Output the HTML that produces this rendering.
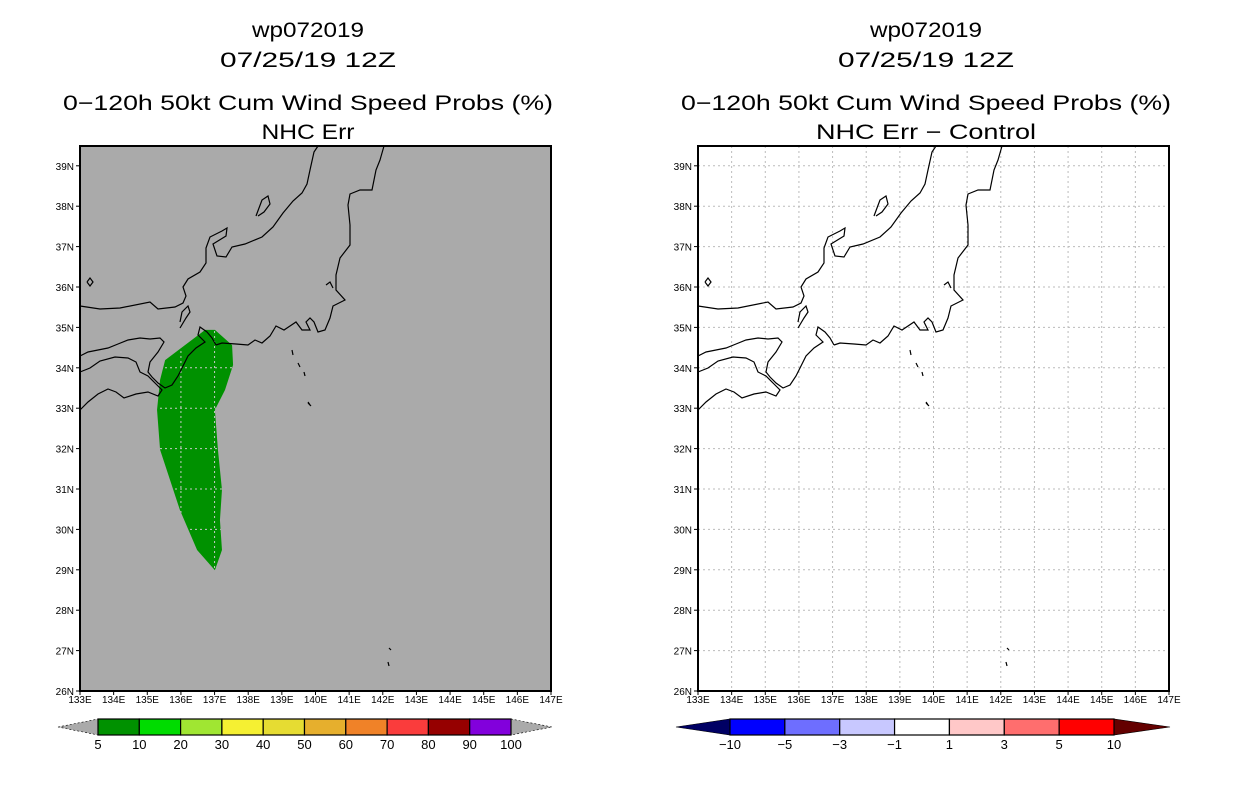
<!DOCTYPE html>
<html><head><meta charset="utf-8"><style>
html,body{margin:0;padding:0;background:#fff}
svg{display:block}
text{font-family:"Liberation Sans",sans-serif}
</style></head><body>
<svg id="fig" width="1236" height="800" viewBox="0 0 1236 800" xmlns="http://www.w3.org/2000/svg">
<defs>
<clipPath id="greenclip"><polygon id="gp" points=""/></clipPath>
</defs>
<g id="root"></g>
</svg>
<script>
const lonTicks=[133,134,135,136,137,138,139,140,141,142,143,144,145,146,147];
const latTicks=[26,27,28,29,30,31,32,33,34,35,36,37,38,39];
const probLevels=["5","10","20","30","40","50","60","70","80","90","100"];
const probColors=["#009100","#00dc00","#a0e632","#f5f032","#e6dc32","#e6af2d","#f08228","#fa3c3c","#960000","#8200dc"];
const diffLevels=["\u221210","\u22125","\u22123","\u22121","1","3","5","10"];
const diffColors=["#0000ff","#6e6eff","#c8c8ff","#ffffff","#ffc8c8","#ff6e6e","#ff0000"];
// 50kt probability contour (lon,lat)
const probLon=[135.53,136.12,136.72,137.01,137.52,137.55,137.31,137.01,137.10,137.22,137.16,137.22,137.01,136.48,135.97,135.38,135.29,135.38];
const probLat=[34.19,34.56,34.94,34.94,34.56,34.07,33.45,32.96,31.97,30.98,30.23,29.49,28.99,29.49,30.48,31.97,32.96,33.70];

const NS="http://www.w3.org/2000/svg";
const root=document.getElementById('root');
function mk(tag,attrs,parent){const e=document.createElementNS(NS,tag);for(const k in attrs)e.setAttribute(k,attrs[k]);(parent||root).appendChild(e);return e;}
const X0=80,X1=551,Y0=146,Y1=691;
function xs(lon,off){return off+X0+(lon-133)*(X1-X0)/14;}
function ys(lat){return Y1-(lat-26)*40.4;}

const coasts=[
"80,306 100,309 120,308 150,302 158,309 175,307 183,303 186,296 183,287 188,279 200,272 206,263 206,248 210,237 222,231 227,228 226,236 213,244 217,256 226,257 232,247 245,244 262,237 273,227 283,213 293,201 302,193 307,184 310,170 314,152 318,146",
"384,146 380,160 376,170 372,190 360,190 350,194 348,205 350,225 350,245 340,258 336,275 336,290 345,300 333,306 330,318 325,330 318,332 314,322 310,318 306,322 310,330 302,330 296,322 290,326 284,330 276,326 270,336 262,343 255,340 248,345 236,344 222,343 216,345",
"216,345 212,338 207,332 200,327 198,335 205,342 196,348 188,356 183,366 178,376 172,385 165,388 158,383 152,377 148,372 150,362 158,352 164,342 160,338 150,339",
"150,339 140,338 128,340 118,344 108,348 98,350 88,352 80,356",
"80,372 90,368 100,361 115,357 128,358 136,362 140,372 148,376 156,384 162,390 158,396 148,392 136,394 124,398 116,392 108,389 98,394 88,402 80,410",
"256,216 262,200 268,196 270,204 264,212 258,216",
"180,328 186,318 190,312 188,306 182,312 180,322",
"87,282 90,278 93,282 90,286 87,282",
"326,285 330,282 333,288",
"292,350 293,355","298,363 300,367","304,372 305,376","308,403 311,406","310,405 308,402",
"389,648 391,650","388,662 389,666"
];
const gridColor="#bbbbbb";

function panel(off,gray){
  const p=mk('g',{});
  
  
  mk('rect',{x:X0+off,y:Y0,width:X1-X0,height:Y1-Y0,fill:gray?'#aaaaaa':'#ffffff'},p);
  let clip=null;
  if(gray){
    const pts=probLon.map((l,i)=>xs(l,off)+','+ys(probLat[i])).join(' ');
    document.getElementById('gp').setAttribute('points',pts);
    const poly=mk('polygon',{points:pts,fill:probColors[0]},p);
    
    
    clip='url(#greenclip)';
  }
  const grid=mk('g',{stroke:gray?'#c8c8c8':gridColor,'stroke-width':1,'stroke-dasharray':'2,3'},p);
  if(clip)grid.setAttribute('clip-path',clip);
  
  
  lonTicks.slice(1,-1).forEach(l=>mk('line',{x1:xs(l,off),x2:xs(l,off),y1:Y0,y2:Y1},grid));
  latTicks.slice(1).forEach(l=>mk('line',{x1:X0+off,x2:X1+off,y1:ys(l),y2:ys(l)},grid));
  const cg=mk('g',{fill:'none',stroke:'#000','stroke-width':1.2,transform:'translate('+off+',0)'},p);
  
  
  coasts.forEach(c=>mk('polyline',{points:c},cg));
  mk('rect',{x:X0+off,y:Y0,width:X1-X0,height:Y1-Y0,fill:'none',stroke:'#000','stroke-width':2},p);
  const ax=mk('g',{},p);
  
  
  lonTicks.forEach(l=>{
    mk('line',{x1:xs(l,off),x2:xs(l,off),y1:Y1,y2:Y1+4,stroke:'#000'},ax);
    const t=mk('text',{x:xs(l,off),y:Y1+12,'font-size':10,'text-anchor':'middle'},ax);
    t.textContent=l+'E';
  });
  latTicks.forEach(l=>{
    mk('line',{x1:X0+off-4,x2:X0+off,y1:ys(l),y2:ys(l),stroke:'#000'},ax);
    const t=mk('text',{x:X0+off-6,y:ys(l)+4,'font-size':10,'text-anchor':'end'},ax);
    t.textContent=l+'N';
  });
}
function titles(cx,sub,subw){
  const lines=[["wp072019",30,112],["07/25/19 12Z",60,176],["0\u2212120h 50kt Cum Wind Speed Probs (%)",103,490],[sub,132,subw]];
  lines.forEach((L,i)=>{
    const t=mk('text',{x:cx,y:L[1]+7,'font-size':21,'text-anchor':'middle',textLength:L[2],lengthAdjust:'spacingAndGlyphs'});
    
    
    t.textContent=L[0];
  });
}
function colorbar(x0,x1,ax0,ax1,colors,labels,lc,rc,name){
  const g=mk('g',{});
  
  
  const y0=719,y1=735,ym=727;
  mk('polygon',{points:ax0+','+ym+' '+x0+','+y0+' '+x0+','+y1,fill:lc,stroke:'#000','stroke-width':0.6,'stroke-dasharray':lc=='#aaaaaa'?'2,2':''},g);
  mk('polygon',{points:ax1+','+ym+' '+x1+','+y0+' '+x1+','+y1,fill:rc,stroke:'#000','stroke-width':0.6,'stroke-dasharray':rc=='#aaaaaa'?'2,2':''},g);
  const w=(x1-x0)/colors.length;
  colors.forEach((c,i)=>mk('rect',{x:x0+i*w,y:y0,width:w,height:y1-y0,fill:c,stroke:'#000','stroke-width':1.2},g));
  labels.forEach((l,i)=>{
    const t=mk('text',{x:x0+i*w,y:749,'font-size':13,'text-anchor':'middle'},g);
    t.textContent=l;
  });
}
titles(308,"NHC Err",93);
titles(926,"NHC Err \u2212 Control",220);
panel(0,true);
panel(618,false);
colorbar(98,511,58,552,probColors,probLevels,'#aaaaaa','#aaaaaa','prob-colorbar');
colorbar(730,1114,676,1170,diffColors,diffLevels,'#000064','#640000','diff-colorbar');
</script>
</body></html>
